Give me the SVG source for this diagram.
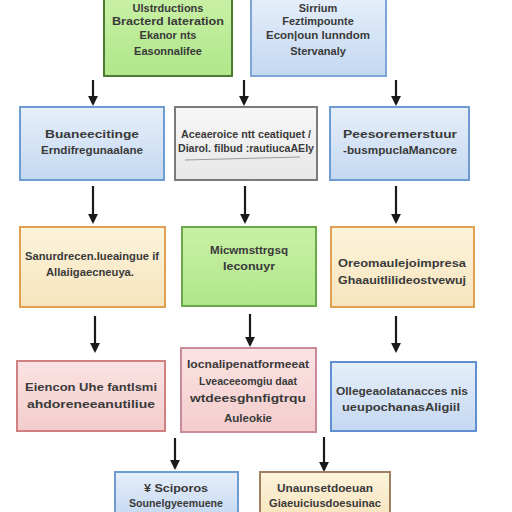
<svg xmlns="http://www.w3.org/2000/svg" width="512" height="512" viewBox="0 0 512 512">
<style>
.t{font-family:"Liberation Sans",Arial,sans-serif;font-size:11px;font-weight:bold;fill:#3a3a3a;text-anchor:middle}
.c{stroke:#1a1a1a;stroke-width:2.2;fill:none}
.b{stroke-width:2}
</style>
<defs>
<linearGradient id="gBlue" x1="0" y1="0" x2="0" y2="1"><stop offset="0" stop-color="#e6effa"/><stop offset="1" stop-color="#c4d8f1"/></linearGradient>
<linearGradient id="gGreen" x1="0" y1="0" x2="0" y2="1"><stop offset="0" stop-color="#c9f0a6"/><stop offset="1" stop-color="#b0e68a"/></linearGradient>
<linearGradient id="gCream" x1="0" y1="0" x2="0" y2="1"><stop offset="0" stop-color="#fdf4dc"/><stop offset="1" stop-color="#f6e4bd"/></linearGradient>
<linearGradient id="gPink" x1="0" y1="0" x2="0" y2="1"><stop offset="0" stop-color="#fbe3e3"/><stop offset="1" stop-color="#f3cccc"/></linearGradient>
<linearGradient id="gGray" x1="0" y1="0" x2="0" y2="1"><stop offset="0" stop-color="#f7f7f7"/><stop offset="1" stop-color="#e8e8e8"/></linearGradient>
<marker id="ah" viewBox="0 0 10 10" refX="8" refY="5" markerWidth="4.5" markerHeight="4.5" orient="auto"><path d="M0,0 L10,5 L0,10 z" fill="#1a1a1a"/></marker>
</defs>
<rect width="512" height="512" fill="#ffffff"/>

<g id="connectors">
<line class="c" x1="93" y1="80" x2="93" y2="104" marker-end="url(#ah)"/>
<line class="c" x1="244" y1="80" x2="244" y2="104" marker-end="url(#ah)"/>
<line class="c" x1="396" y1="80" x2="396" y2="104" marker-end="url(#ah)"/>
<line class="c" x1="93" y1="186" x2="93" y2="222" marker-end="url(#ah)"/>
<line class="c" x1="245" y1="186" x2="245" y2="222" marker-end="url(#ah)"/>
<line class="c" x1="396" y1="186" x2="396" y2="222" marker-end="url(#ah)"/>
<line class="c" x1="95" y1="316" x2="95" y2="351" marker-end="url(#ah)"/>
<line class="c" x1="250" y1="314" x2="250" y2="345" marker-end="url(#ah)"/>
<line class="c" x1="396" y1="316" x2="396" y2="351" marker-end="url(#ah)"/>
<line class="c" x1="175" y1="438" x2="175" y2="468" marker-end="url(#ah)"/>
<line class="c" x1="324" y1="437" x2="324" y2="470" marker-end="url(#ah)"/>
</g>

<g id="n1"><rect class="b" x="104" y="-4" width="128" height="80" fill="url(#gGreen)" stroke="#4d7a35"/>
<text class="t" x="168" y="12">Ulstrductions</text>
<text class="t" x="168" y="25" textLength="112" lengthAdjust="spacingAndGlyphs">Bracterd lateration</text>
<text class="t" x="168" y="39">Ekanor nts</text>
<text class="t" x="168" y="55">Easonnalifee</text></g>

<g id="n2"><rect class="b" x="251" y="-4" width="135" height="80" fill="url(#gBlue)" stroke="#7ea6d8"/>
<text class="t" x="318" y="12">Sirrium</text>
<text class="t" x="318" y="25">Feztimpounte</text>
<text class="t" x="318" y="39" textLength="104" lengthAdjust="spacingAndGlyphs">Econ|oun lunndom</text>
<text class="t" x="318" y="55">Stervanaly</text></g>

<g id="n3"><rect class="b" x="20" y="107" width="144" height="73" fill="url(#gBlue)" stroke="#6f9bd3"/>
<text class="t" x="92" y="138" textLength="94" lengthAdjust="spacingAndGlyphs">Buaneecitinge</text>
<text class="t" x="92" y="154" textLength="102" lengthAdjust="spacingAndGlyphs">Erndifregunaalane</text></g>

<g id="n4"><rect class="b" x="175" y="107" width="142" height="73" fill="url(#gGray)" stroke="#7a7a7a"/>
<text class="t" x="246" y="138" textLength="130" lengthAdjust="spacingAndGlyphs">Aceaeroice ntt ceatiquet /</text>
<text class="t" x="246" y="152" textLength="136" lengthAdjust="spacingAndGlyphs">Diarol. filbud :rautiucaAEly</text>
<line x1="185" y1="160" x2="300" y2="157" stroke="#9a9a9a" stroke-width="1"/></g>

<g id="n5"><rect class="b" x="330" y="107" width="139" height="73" fill="url(#gBlue)" stroke="#6f9bd3"/>
<text class="t" x="400" y="138" textLength="114" lengthAdjust="spacingAndGlyphs">Peesoremerstuur</text>
<text class="t" x="400" y="154" textLength="114" lengthAdjust="spacingAndGlyphs">-busmpuclaMancore</text></g>

<g id="n6"><rect class="b" x="20" y="227" width="145" height="80" fill="url(#gCream)" stroke="#e0a050"/>
<text class="t" x="92" y="260" textLength="134" lengthAdjust="spacingAndGlyphs">Sanurdrecen.Iueaingue if</text>
<text class="t" x="90" y="276" textLength="88" lengthAdjust="spacingAndGlyphs">Allaiigaecneuya.</text></g>

<g id="n7"><rect class="b" x="182" y="227" width="134" height="79" fill="url(#gGreen)" stroke="#6aa84a"/>
<text class="t" x="249" y="254" textLength="78" lengthAdjust="spacingAndGlyphs">Micwmsttrgsq</text>
<text class="t" x="249" y="270" textLength="52" lengthAdjust="spacingAndGlyphs">Ieconuyr</text></g>

<g id="n8"><rect class="b" x="331" y="227" width="143" height="80" fill="url(#gCream)" stroke="#e0a050"/>
<text class="t" x="402" y="267" textLength="128" lengthAdjust="spacingAndGlyphs">Oreomaulejoimpresa</text>
<text class="t" x="402" y="284" textLength="128" lengthAdjust="spacingAndGlyphs">Ghaauitlilideostvewuj</text></g>

<g id="n9"><rect class="b" x="17" y="361" width="148" height="70" fill="url(#gPink)" stroke="#cf8080"/>
<text class="t" x="91" y="391" textLength="132" lengthAdjust="spacingAndGlyphs">Eiencon Uhe fantlsmi</text>
<text class="t" x="91" y="408" textLength="128" lengthAdjust="spacingAndGlyphs">ahdoreneeanutiliue</text></g>

<g id="n10"><rect class="b" x="181" y="348" width="135" height="84" fill="url(#gPink)" stroke="#c98a9a"/>
<text class="t" x="248" y="368" textLength="122" lengthAdjust="spacingAndGlyphs">Iocnalipenatformeeat</text>
<text class="t" x="248" y="385" textLength="98" lengthAdjust="spacingAndGlyphs">Lveaceeomgiu daat</text>
<text class="t" x="248" y="402" textLength="116" lengthAdjust="spacingAndGlyphs">wtdeesghnfigtrqu</text>
<text class="t" x="248" y="422" textLength="48" lengthAdjust="spacingAndGlyphs">Auleokie</text></g>

<g id="n11"><rect class="b" x="331" y="362" width="145" height="69" fill="url(#gBlue)" stroke="#5f8fd0"/>
<text class="t" x="402" y="395" textLength="132" lengthAdjust="spacingAndGlyphs">Ollegeaolatanacces nis</text>
<text class="t" x="401" y="411" textLength="118" lengthAdjust="spacingAndGlyphs">ueupochanasAligiil</text></g>

<g id="n12"><rect class="b" x="115" y="472" width="123" height="46" fill="url(#gBlue)" stroke="#6f9bd3"/>
<text class="t" x="176" y="492" textLength="64" lengthAdjust="spacingAndGlyphs">¥ Sciporos</text>
<text class="t" x="176" y="507" textLength="94" lengthAdjust="spacingAndGlyphs">Sounelgyeemuene</text></g>

<g id="n13"><rect class="b" x="260" y="472" width="130" height="46" fill="url(#gCream)" stroke="#a08060"/>
<text class="t" x="325" y="492" textLength="96" lengthAdjust="spacingAndGlyphs">Unaunsetdoeuan</text>
<text class="t" x="325" y="507" textLength="112" lengthAdjust="spacingAndGlyphs">Giaeuiciusdoesuinac</text></g>
</svg>
